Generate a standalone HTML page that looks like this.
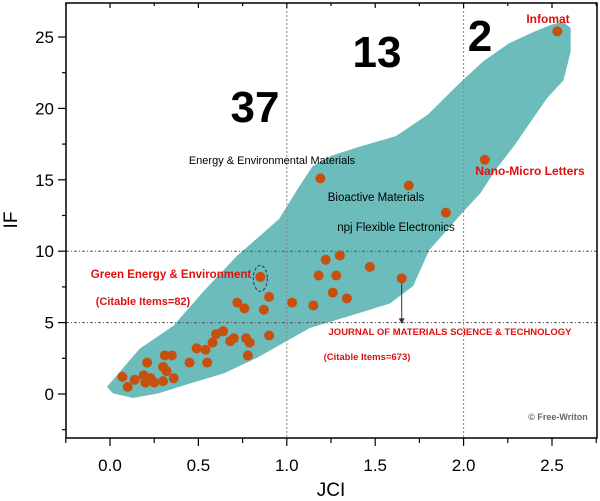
<!DOCTYPE html>
<html><head><meta charset="utf-8"><style>
body{margin:0;background:#fff;}
svg{display:block;font-family:"Liberation Sans",Arial,sans-serif;}
</style></head><body>
<svg id="chart" width="600" height="501" viewBox="0 0 600 501">
<g id="plot"></g>
</svg>
<script>
const xTicks=[0,0.5,1.0,1.5,2.0,2.5];
const xTickLabels=["0.0","0.5","1.0","1.5","2.0","2.5"];
const yTicks=[0,5,10,15,20,25];
const jciValues=[0.85,0.90,0.72,0.76,0.87,1.03,0.90,0.64,0.60,0.70,0.68,0.58,0.77,0.79,0.78,0.49,0.54,0.45,0.55,0.21,0.31,0.35,0.30,0.32,0.36,0.07,0.10,0.14,0.19,0.20,0.23,0.25,0.30,1.19,1.69,1.90,2.12,1.22,1.30,1.47,1.18,1.28,1.65,1.26,1.34,1.15,2.53];
const ifValues=[8.2,6.8,6.4,6.0,5.9,6.4,4.1,4.4,4.2,3.9,3.7,3.6,3.9,3.6,2.7,3.2,3.1,2.2,2.2,2.2,2.7,2.7,1.9,1.6,1.1,1.2,0.5,1.0,1.3,0.8,1.1,0.8,0.9,15.1,14.6,12.7,16.4,9.4,9.7,8.9,8.3,8.3,8.1,7.1,6.7,6.2,25.4];
const hullX=[-0.01,0.08,0.17,0.36,0.53,0.72,0.85,0.96,1.06,1.15,1.25,1.40,1.62,1.80,1.98,2.12,2.26,2.40,2.50,2.56,2.60,2.60,2.56,2.47,2.38,2.28,2.18,2.09,2.00,1.80,1.71,1.58,1.45,1.13,0.83,0.64,0.45,0.27,0.13,0.02];
const hullY=[0.5,1.8,3.1,4.7,7.1,9.6,11.0,12.2,14.2,15.9,16.6,17.2,18.0,19.5,21.7,23.3,24.5,25.3,25.8,26.0,25.6,24.0,22.0,20.8,19.2,17.4,15.8,14.1,12.9,10.1,7.6,6.4,5.9,4.7,2.6,1.5,0.8,0.1,-0.2,0.1];
const X0=110,XS=176.8,Y0=394,YS=14.28;
const sx=v=>X0+v*XS, sy=v=>Y0-v*YS;
const NS="http://www.w3.org/2000/svg";
const g=document.getElementById('plot');
function mk(t,a,txt){const e=document.createElementNS(NS,t);for(const k in a)e.setAttribute(k,a[k]);if(txt!=null)e.textContent=txt;g.appendChild(e);return e;}
let pts=hullX.map((x,i)=>sx(x)+","+sy(hullY[i])).join(" ");
let h=mk('polygon',{points:pts,fill:'#6bbcbb','stroke-linejoin':'round',stroke:'#6bbcbb','stroke-width':2});


[1.0,2.0].forEach(v=>{let l=mk('line',{x1:sx(v),x2:sx(v),y1:3,y2:438,stroke:'#888','stroke-width':1,'stroke-dasharray':'2,2'});

});
[5,10].forEach(v=>{let l=mk('line',{x1:66,x2:597,y1:sy(v),y2:sy(v),stroke:'#555','stroke-width':1,'stroke-dasharray':'3,2,1,2'});

});
let el=mk('ellipse',{cx:sx(0.85),cy:sy(8.1),rx:7,ry:13,fill:'none',stroke:'#333','stroke-dasharray':'3,2'});


let ar=mk('line',{x1:sx(1.65),x2:sx(1.65),y1:sy(8.1),y2:sy(5.2),stroke:'#333'});


mk('polygon',{points:`${sx(1.65)-3},${sy(5.3)} ${sx(1.65)+3},${sy(5.3)} ${sx(1.65)},${sy(4.9)}`,fill:'#333'});
jciValues.forEach((x,i)=>{let c=mk('circle',{cx:sx(x),cy:sy(ifValues[i]),r:5,fill:'#c8500f'});

});
let ax=mk('path',{d:'M66,3 H597 V438 H66 Z',fill:'none',stroke:'#000','stroke-width':1.5});


for(let v=-0.25;v<=2.76;v+=0.25){let x=sx(v);mk('line',{x1:x,x2:x,y1:438,y2:v*4%2==0?446:443,stroke:'#000','stroke-width':1.2});mk('line',{x1:x,x2:x,y1:3,y2:v*4%2==0?8:6,stroke:'#000','stroke-width':1.2});}
xTicks.forEach((v,i)=>{let t=mk('text',{x:sx(v),y:471,'text-anchor':'middle','font-size':17},xTickLabels[i]);

});
for(let v=-2.5;v<=27.5;v+=2.5){let y=sy(v);if(y<3||y>438)continue;mk('line',{x1:66,x2:v%5==0?58:62,y1:y,y2:y,stroke:'#000','stroke-width':1.2});}
yTicks.forEach(v=>{let t=mk('text',{x:54,y:sy(v)+6,'text-anchor':'end','font-size':17},String(v));

});
let xt=mk('text',{x:331,y:496,'text-anchor':'middle','font-size':19},'JCI');


let yt=mk('text',{x:17,y:220,'text-anchor':'middle','font-size':19,transform:'rotate(-90 17 220)'},'IF');


const ann=[
['37',255,122,44,'#000','bold','count-37'],['13',377,67,44,'#000','bold','count-13'],['2',480,51,44,'#000','bold','count-2'],
['Infomat',548,23,12,'#e01010','bold','label-infomat'],
['Nano-Micro Letters',530,175,12,'#e01010','bold','label-nano-micro'],
['Energy & Environmental Materials',272,164,11,'#000','normal','label-eem'],
['Bioactive Materials',376,201,11.5,'#000','normal','label-bioactive'],
['npj Flexible Electronics',396,231,11.5,'#000','normal','label-npj'],
['Green Energy & Environment',171,278,11.5,'#e01010','bold','label-gee'],
['(Citable Items=82)',143,305,11,'#e01010','bold','label-gee-items'],
['JOURNAL OF MATERIALS SCIENCE & TECHNOLOGY',450,335,9.5,'#e01010','bold','label-jmst'],
['(Citable Items=673)',367,360,9.5,'#e01010','bold','label-jmst-items'],
['© Free-Writon',558,420,9,'#666','bold','watermark']];
ann.forEach(a=>{let t=mk('text',{x:a[1],y:a[2],'text-anchor':'middle','font-size':a[3],fill:a[4],'font-weight':a[5]},a[0]);

});
</script>
</body></html>
